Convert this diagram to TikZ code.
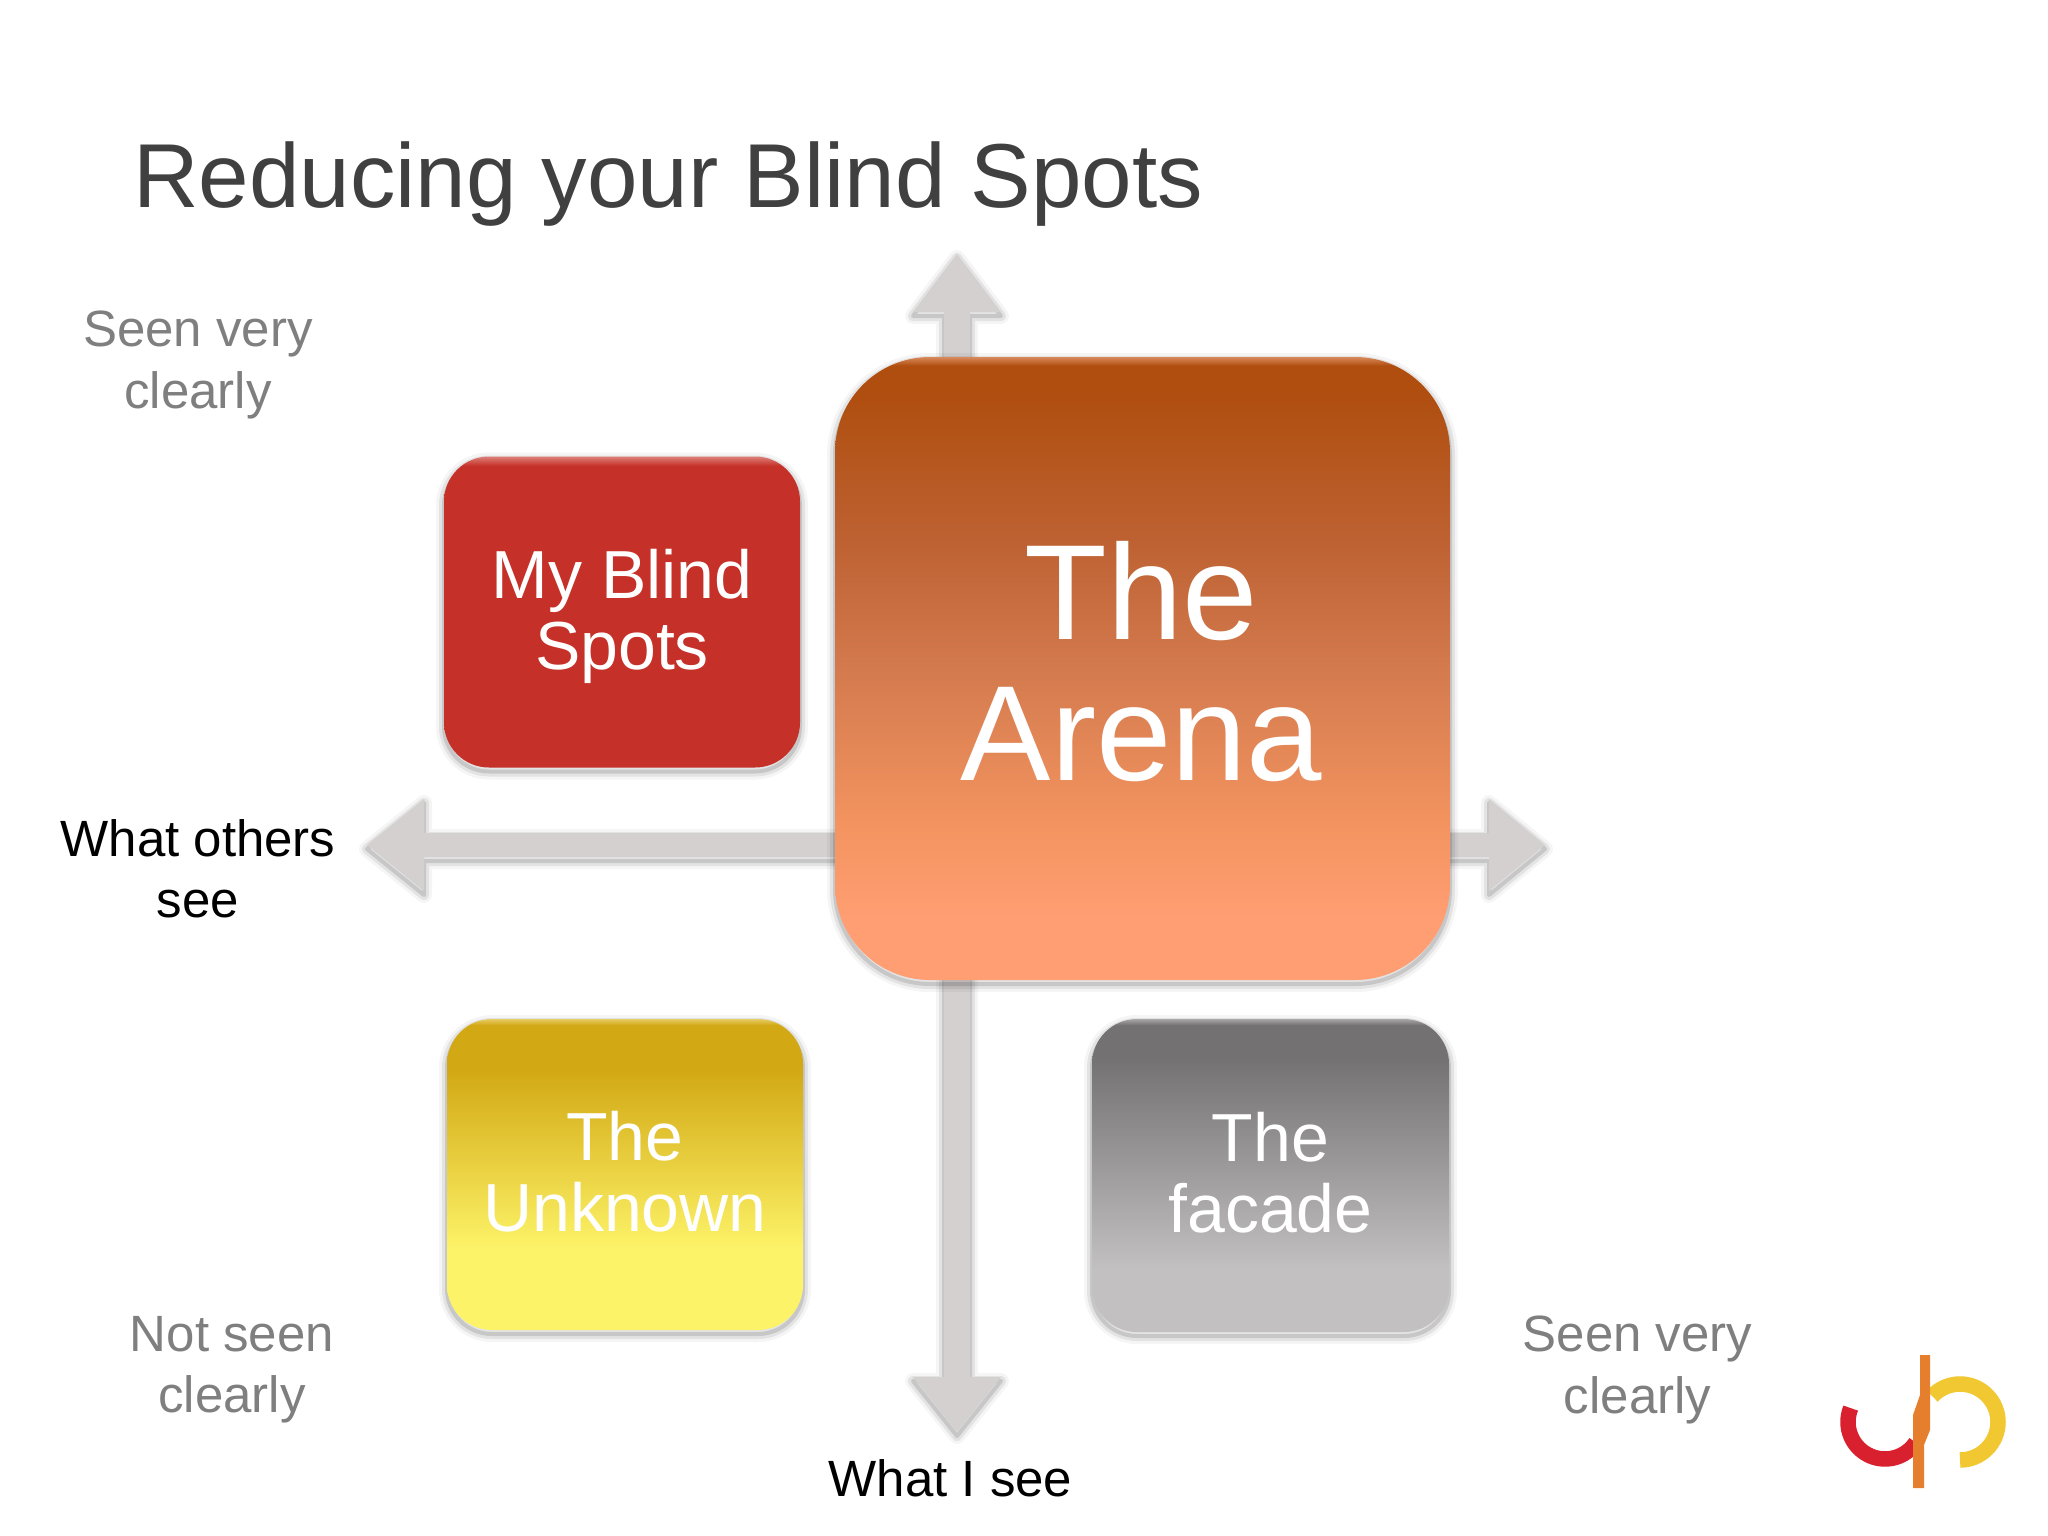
\documentclass[tikz,border=0pt]{standalone}
\usepackage{fontspec}
\setmainfont{Liberation Sans}
\usetikzlibrary{calc}
\definecolor{arenaA}{HTML}{AF4E0F}
\definecolor{arenaB}{HTML}{BE6233}
\definecolor{arenaM}{HTML}{D37A4E}
\definecolor{arenaD}{HTML}{F2935F}
\definecolor{arenaC}{HTML}{FF9E72}
\definecolor{arenaL}{HTML}{D98A5C}
\definecolor{yelA}{HTML}{D2A814}
\definecolor{yelB}{HTML}{FDF368}
\definecolor{yelL}{HTML}{E6CC66}
\definecolor{gryA}{HTML}{737172}
\definecolor{gryB}{HTML}{C2C0C1}
\definecolor{gryL}{HTML}{A9A7A8}
\definecolor{redA}{HTML}{C53028}
\definecolor{redL}{HTML}{DC8078}
\definecolor{arrowgray}{HTML}{D4D0D0}
\definecolor{titlegray}{HTML}{404040}
\definecolor{notegray}{HTML}{7F7F7F}
\definecolor{logored}{HTML}{D9202E}
\definecolor{logoyel}{HTML}{F2C832}
\definecolor{logoora}{HTML}{E57F2E}
\pgfdeclareverticalshading{arenagrad}{100bp}{
  color(0bp)=(arenaC); color(25bp)=(arenaC); color(30bp)=(arenaC); color(38bp)=(arenaD); color(50bp)=(arenaM);
  color(60bp)=(arenaB); color(72bp)=(arenaA); color(74.3bp)=(arenaA); color(75bp)=(arenaL); color(100bp)=(arenaL)}
\pgfdeclareverticalshading{yellowgrad}{100bp}{
  color(0bp)=(yelB); color(25bp)=(yelB); color(38bp)=(yelB);
  color(67bp)=(yelA); color(74bp)=(yelA); color(75bp)=(yelL); color(100bp)=(yelL)}
\pgfdeclareverticalshading{graygrad}{100bp}{
  color(0bp)=(gryB); color(25bp)=(gryB); color(35bp)=(gryB);
  color(69bp)=(gryA); color(74bp)=(gryA); color(75bp)=(gryL); color(100bp)=(gryL)}
\pgfdeclareverticalshading{redgrad}{100bp}{
  color(0bp)=(redA); color(25bp)=(redA); color(73.5bp)=(redA); color(75bp)=(redL); color(100bp)=(redL)}
\tikzset{
  softshadow/.style={
    preaction={draw=black,draw opacity=.04,line width=16pt,line join=round,transform canvas={yshift=-4pt}},
    preaction={draw=black,draw opacity=.07,line width=10pt,line join=round,transform canvas={yshift=-4pt}},
    preaction={draw=black,draw opacity=.12,line width=4pt,line join=round,transform canvas={yshift=-4pt}}},
  blockarrow/.style={fill=arrowgray,softshadow},
  quad/.style={rectangle,inner sep=0pt,outer sep=0pt,softshadow},
  smallbox/.style={quad,minimum width=356pt,minimum height=311pt,rounded corners=45pt},
  boxtext/.style={align=center,text=white,inner sep=0pt,font=\fontsize{68}{71}\selectfont},
  arenatext/.style={align=center,text=white,inner sep=0pt,font=\fontsize{135.5}{141}\selectfont},
  note/.style={align=center,text=notegray,inner sep=0pt,font=\fontsize{51}{61.4}\selectfont},
  axislabel/.style={align=center,text=black,inner sep=0pt,font=\fontsize{51}{61.4}\selectfont},
  logostroke/.style={line width=15.5pt}
}
\begin{document}
\begin{tikzpicture}[x=1pt,y=-1pt]
\useasboundingbox (0,0) rectangle (2048,1536);
\fill[white] (0,0) rectangle (2048,1536);
% axes
\coordinate (west) at (367,845);
\coordinate (east) at (1545,845);
\coordinate (north) at (957,254);
\coordinate (south) at (957,1432);
\path[blockarrow] (west) -- ++(57,-46) -- ++(0,34) -- ($(east)+(-56,-12)$) -- ++(0,-34) -- (east)
  -- ++(-56,46) -- ++(0,-34) -- ($(west)+(57,12)$) -- ++(0,34) -- cycle;
\path[blockarrow] (north) -- ++(44,58) -- ++(-31,0) -- ($(south)+(13,-55)$) -- ++(31,0) -- (south)
  -- ++(-44,-55) -- ++(31,0) -- ($(north)+(-13,58)$) -- ++(-31,0) -- cycle;
% boxes
\node[quad,shading=arenagrad,minimum width=615pt,minimum height=623pt,rounded corners=95pt] (arena) at (1142.5,668.5) {};
\node[smallbox,shading=redgrad] (blind) at (622,612) {};
\node[smallbox,shading=yellowgrad] (unknown) at (625,1174.5) {};
\node[smallbox,shading=graygrad,minimum width=357pt,minimum height=313pt] (facade) at (1270.5,1175.5) {};
\node[arenatext] (arenaT) at ($(arena)+(-1,-6.5)$) {The\\Arena};
\node[boxtext] (blindT) at ($(blind)+(0,4)$) {My Blind\\Spots};
\node[boxtext] (unknownT) at ($(unknown)+(0,-3)$) {The\\Unknown};
\node[boxtext] (facadeT) at ($(facade)+(0,-3)$) {The\\facade};
% texts
\node[anchor=base west,inner sep=0pt,text=titlegray,font=\fontsize{90.8}{100}\selectfont] (title) at (133,207) {Reducing your Blind Spots};
\node[note] (seenTL) at (198,365) {Seen very\\clearly};
\node[axislabel] (others) at (198,869) {What others\\see};
\node[note] (notseen) at (232,1370) {Not seen\\clearly};
\node[note] (seenBR) at (1637.5,1370) {Seen very\\clearly};
\node[axislabel,anchor=base] (isee) at (950.5,1496) {What I see};
% logo
\coordinate (redc) at (1885,1422);
\coordinate (yelc) at (1960,1422);
\draw[logostroke,logored] ($(redc)+(-34.3,-13.9)$) arc[start angle=202,end angle=34,radius=37];
\draw[logostroke,logoyel] ($(yelc)+(0,38)$) arc[start angle=90,end angle=-137,radius=38];
\fill[logoora] (1920,1355) -- (1930,1355) -- (1930,1430) -- (1924,1445) -- (1924,1488) -- (1913,1488) -- (1913,1415) -- (1920,1395) -- cycle;
\end{tikzpicture}
\end{document}
